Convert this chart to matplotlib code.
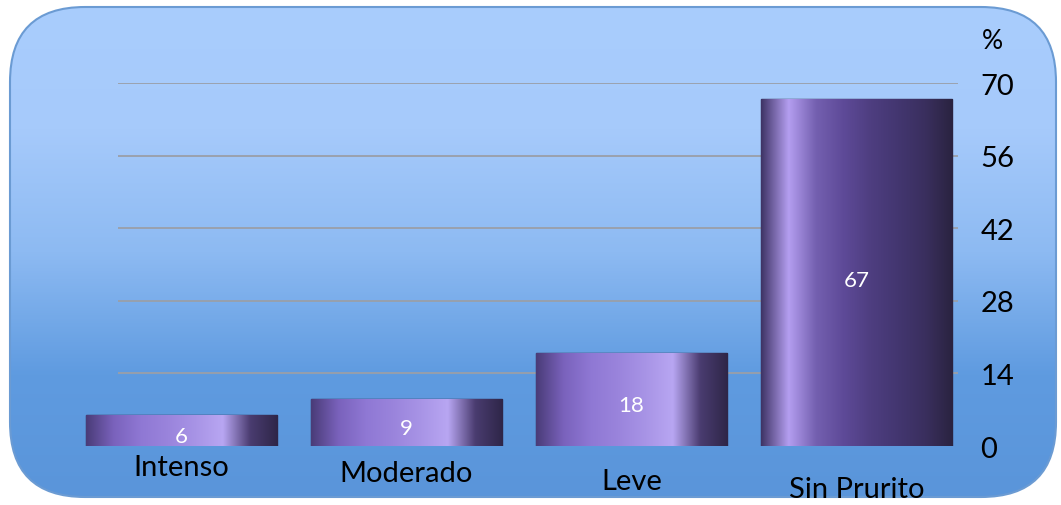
import numpy as np
import matplotlib
matplotlib.use("Agg")
import matplotlib.pyplot as plt
from matplotlib.patches import FancyBboxPatch
from matplotlib.colors import LinearSegmentedColormap

# data
categories = ["Intenso", "Moderado", "Leve", "Sin Prurito"]
values = [6, 9, 18, 67]
yticks = [0, 14, 28, 42, 56, 70]

plt.rcParams['font.family'] = ['Lato', 'DejaVu Sans']

fig = plt.figure(figsize=(10.61, 5.06), dpi=100)
fig.patch.set_facecolor("white")

# background panel: rounded box with a vertical blue gradient
bg = fig.add_axes([0, 0, 1, 1])
bg.set_xlim(0, 1061)
bg.set_ylim(506, 0)
bg.axis("off")
panel = FancyBboxPatch((10, 8), 1046, 490, boxstyle="round,pad=0,rounding_size=75",
                       facecolor="none", edgecolor="#6b9bd3", linewidth=1.5, zorder=3)
bg.add_patch(panel)
bg_cmap = LinearSegmentedColormap.from_list("bgblue", ["#a9cdfd", "#a6cafb", "#8dbaf2", "#5f9be0", "#5a95da"])
grad = np.linspace(0, 1, 256).reshape(-1, 1)
im = bg.imshow(grad, cmap=bg_cmap, aspect="auto", extent=(10, 1056, 498, 8), zorder=1)
im.set_clip_path(panel)

# main axes
ax = fig.add_axes([0.0754, 0.1166, 0.8275, 0.717])
ax.patch.set_alpha(0)

for y in yticks[1:]:
    ax.hlines(y, -0.28, 3.45, color="#9a9fa8", linewidth=1.3, zorder=1)

small_cmap = LinearSegmentedColormap.from_list(
    "barsmall", ["#4a3c78", "#7a62bc", "#8f78d4", "#9a84dc", "#a894e6", "#b8a6f2", "#4a3c70", "#2e2648"])
tall_cmap = LinearSegmentedColormap.from_list(
    "bartall", ["#3f3466", "#b49ef0", "#7460b0", "#5e4a98", "#4e3e80", "#433670", "#3a2f5e", "#2a2340"])
xs = np.arange(len(categories))
bars = ax.bar(xs, values, width=0.85, color="#5a4690", edgecolor="#2e2648", linewidth=1.0, zorder=2)
hgrad = np.linspace(0, 1, 256).reshape(1, -1)
for b, v in zip(bars, values):
    x0, w, h = b.get_x(), b.get_width(), b.get_height()
    cm = tall_cmap if v > 40 else small_cmap
    g = ax.imshow(hgrad, cmap=cm, aspect="auto", extent=(x0, x0 + w, 0, h), zorder=2.5)
    g.set_clip_path(b)

ax.set_xlim(-0.45, 3.45)
ax.set_ylim(0, 70)

for x, v in zip(xs, values):
    ypos = v / 2 - 1 if v < 40 else 32
    ax.text(x, ypos, str(v), color="white", ha="center", va="center", fontsize=16, zorder=4)

label_y = [-4.0, -5.2, -6.8, -8.2]
for x, c, ly in zip(xs, categories, label_y):
    ax.text(x, ly, c, ha="center", va="center", fontsize=21, color="black", clip_on=False)

ax.set_xticks([])
ax.yaxis.tick_right()
ax.set_yticks(yticks)
ax.set_yticklabels([str(t) for t in yticks], fontsize=21)
ax.tick_params(axis="y", length=0, pad=16)
for s in ax.spines.values():
    s.set_visible(False)

fig.text(0.935, 0.918, "%", fontsize=19, ha="center", va="center")

fig.savefig("out.png", dpi=100)
